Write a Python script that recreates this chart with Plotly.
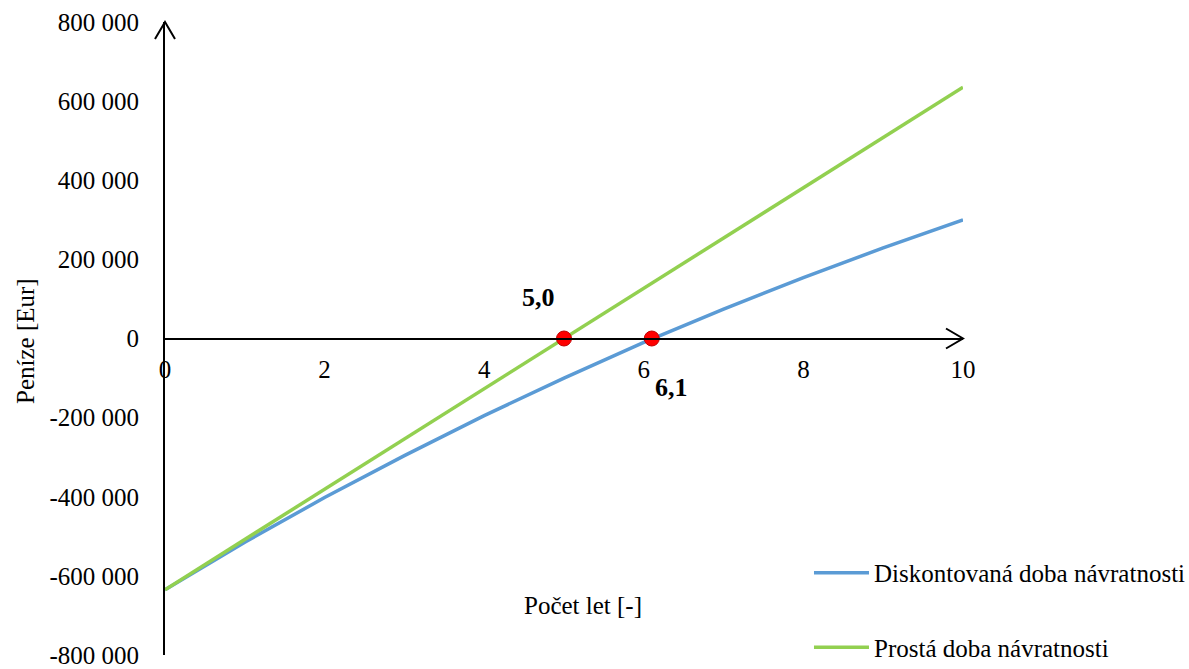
import plotly.graph_objects as go

# Roky a kumulované peněžní toky projektu
years = [0, 1, 2, 3, 4, 5, 6, 7, 8, 9, 10]
discounted = [-635000, -515000, -402000, -296000, -195000, -100000,
              -10000, 74000, 154000, 229000, 300000]
simple = [-635000, -508000, -381000, -254000, -127000, 0,
          127000, 254000, 381000, 508000, 635000]

# Body návratnosti (roky)
payback_years = [5.0, 6.1]
payback_values = [0, 0]
payback_label_shift = [(-26, 41), (20, -49)]

x_ticks = [0, 2, 4, 6, 8, 10]
y_ticks = [-800000, -600000, -400000, -200000, 0, 200000, 400000, 600000, 800000]
y_tick_text = [f"{v:,}".replace(",", " ") for v in y_ticks]

FONT = "Times New Roman, Liberation Serif, serif"
FS = 25
BLUE = "#5B9BD5"
GREEN = "#92D050"

fig = go.Figure()

fig.add_trace(go.Scatter(
    x=years, y=discounted, mode="lines",
    name="Diskontovaná doba návratnosti",
    line=dict(color=BLUE, width=3.5),
    legendgroup="a",
))
fig.add_trace(go.Scatter(
    x=years, y=simple, mode="lines",
    name="Prostá doba návratnosti",
    line=dict(color=GREEN, width=3.5),
    legendgroup="b",
))
fig.add_trace(go.Scatter(
    x=payback_years, y=payback_values, mode="markers",
    marker=dict(size=15, color="#FF0000", line=dict(color="#C00000", width=1)),
    showlegend=False, cliponaxis=False,
))

for px, py, (dx, dy) in zip(payback_years, payback_values, payback_label_shift):
    fig.add_annotation(
        x=px, y=py, xref="x", yref="y",
        text=f"<b>{px:.1f}</b>".replace(".", ","),
        showarrow=False, xshift=dx, yshift=dy,
        font=dict(family=FONT, size=26, color="black"),
    )

# Šipky na koncích os (v souřadnicích papíru, aby se neořízly)
fig.add_shape(
    type="path", xref="paper", yref="paper",
    xsizemode="pixel", ysizemode="pixel",
    xanchor=0, yanchor=1,
    path="M -10,-17 L 0,0 L 10,-17",
    line=dict(color="black", width=2),
)
fig.add_shape(
    type="path", xref="paper", yref="paper",
    xsizemode="pixel", ysizemode="pixel",
    xanchor=1, yanchor=0.5,
    path="M -17,10 L 0,0 L -17,-10",
    line=dict(color="black", width=2),
)

# Popisky os
fig.add_annotation(
    x=-140 / 798, y=(655 - 341) / 633, xref="paper", yref="paper",
    xanchor="center", yanchor="middle",
    text="Peníze [Eur]", textangle=-90, showarrow=False,
    font=dict(family=FONT, size=FS, color="black"),
)
fig.add_annotation(
    x=(583 - 165) / 798, y=(655 - 605) / 633, xref="paper", yref="paper",
    xanchor="center", yanchor="middle",
    text="Počet let [-]", showarrow=False,
    font=dict(family=FONT, size=FS, color="black"),
)

fig.update_layout(
    width=1189, height=669,
    margin=dict(l=165, r=226, t=22, b=14, autoexpand=False),
    paper_bgcolor="white", plot_bgcolor="white",
    font=dict(family=FONT, size=FS, color="black"),
    xaxis=dict(
        range=[0, 10], anchor="free", position=0.5,
        showline=True, linecolor="black", linewidth=2,
        showgrid=False, zeroline=False, automargin=False,
        tickvals=x_ticks, ticks="", ticklabelstandoff=8,
        tickfont=dict(family=FONT, size=FS, color="black"),
    ),
    yaxis=dict(
        range=[-800000, 800000],
        showline=True, linecolor="black", linewidth=2,
        showgrid=False, zeroline=False, automargin=False,
        tickvals=y_ticks, ticktext=y_tick_text, ticks="",
        ticklabelstandoff=19,
        tickfont=dict(family=FONT, size=FS, color="black"),
    ),
    legend=dict(
        x=0.807, y=0.166, xanchor="left", yanchor="top",
        bgcolor="rgba(0,0,0,0)",
        font=dict(family=FONT, size=FS, color="black"),
        tracegroupgap=39, itemwidth=55,
    ),
    showlegend=True,
)

fig.write_html("out.html")
